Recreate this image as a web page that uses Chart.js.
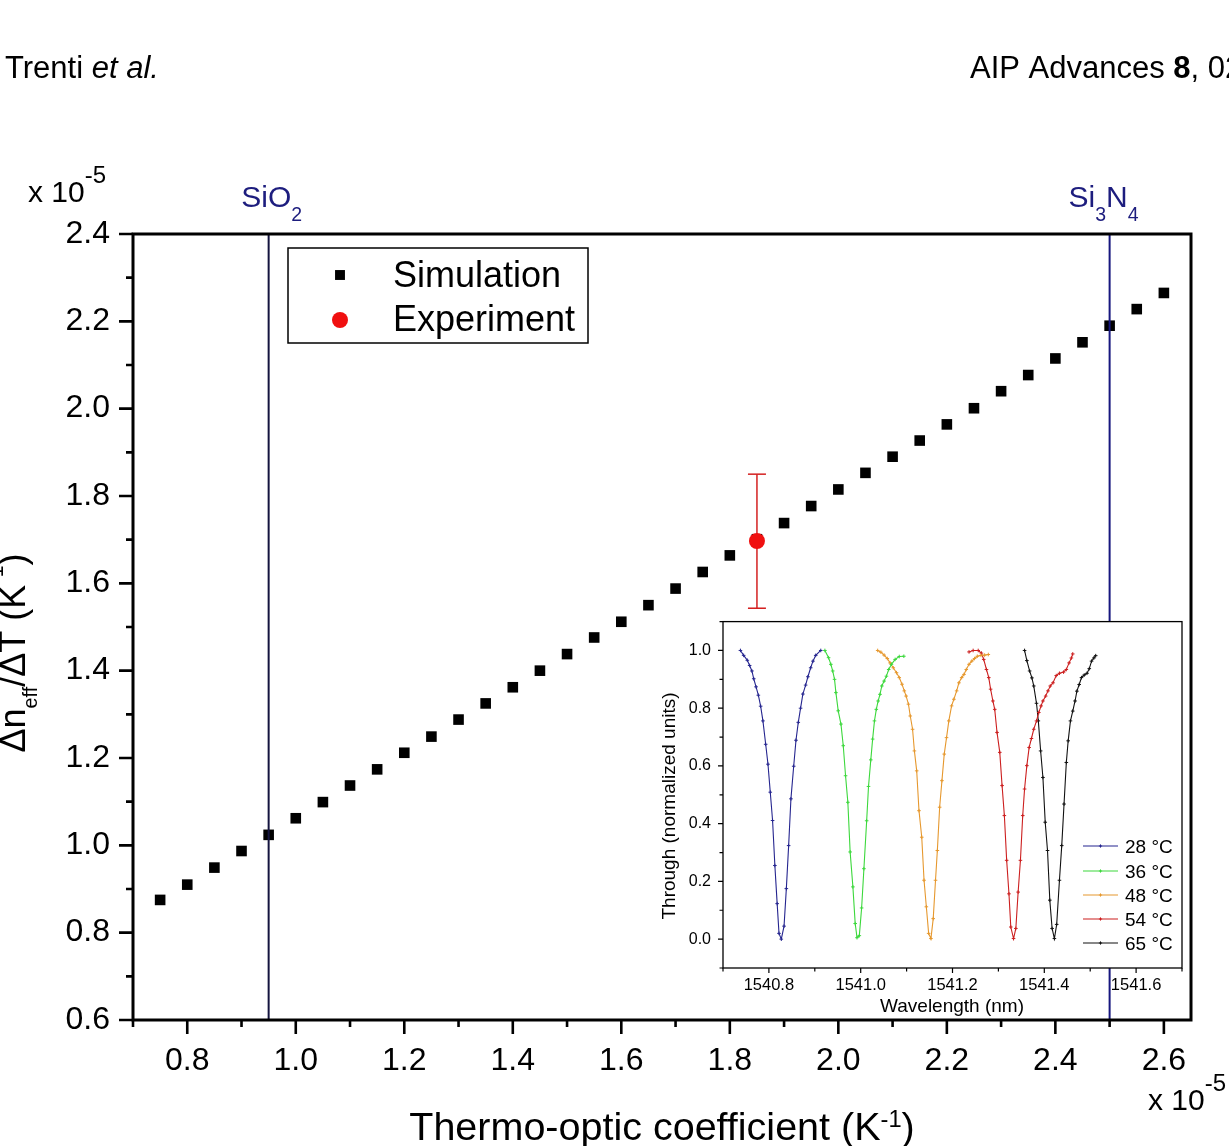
<!DOCTYPE html>
<html>
<head>
<meta charset="utf-8">
<script src="https://cdn.jsdelivr.net/npm/chart.js@4.4.1/dist/chart.umd.min.js"></script>
<style>
html,body{margin:0;padding:0;background:#fff;overflow:hidden;}
#wrap{position:relative;width:1229px;height:1146px;}
#main{position:absolute;left:0;top:0;width:1229px;height:1146px;}
#inset{position:absolute;left:640px;top:600px;width:560px;height:425px;}
</style>
</head>
<body>
<div id="wrap">
  <div id="main"><canvas id="c1"></canvas></div>
  <div id="inset"><canvas id="c2"></canvas></div>
</div>
<script>
// ---------------- DATA ----------------
const simCoeff = [0.75,0.80,0.85,0.90,0.95,1.00,1.05,1.10,1.15,1.20,1.25,1.30,1.35,1.40,1.45,1.50,1.55,1.60,1.65,1.70,1.75,1.80,1.85,1.90,1.95,2.00,2.05,2.10,2.15,2.20,2.25,2.30,2.35,2.40,2.45,2.50,2.55,2.60];
const simDndT  = [0.875,0.910,0.949,0.987,1.024,1.062,1.099,1.137,1.174,1.212,1.249,1.288,1.325,1.362,1.400,1.438,1.476,1.512,1.550,1.588,1.626,1.664,1.701,1.738,1.777,1.815,1.853,1.890,1.927,1.964,2.001,2.040,2.077,2.115,2.152,2.190,2.228,2.265];

const expCoeff   = [1.85];
const expDndT    = [1.697];
const expErrLow  = [1.543];
const expErrHigh = [1.850];

const materialNames = ['SiO2', 'Si3N4'];
const materialCoeff = [0.95, 2.50];

const xTickValues = [0.7,0.8,0.9,1.0,1.1,1.2,1.3,1.4,1.5,1.6,1.7,1.8,1.9,2.0,2.1,2.2,2.3,2.4,2.5,2.6];
const xTickLabels = ['','0.8','','1.0','','1.2','','1.4','','1.6','','1.8','','2.0','','2.2','','2.4','','2.6'];
const yTickValues = [0.6,0.7,0.8,0.9,1.0,1.1,1.2,1.3,1.4,1.5,1.6,1.7,1.8,1.9,2.0,2.1,2.2,2.3,2.4];
const yTickLabels = ['0.6','','0.8','','1.0','','1.2','','1.4','','1.6','','1.8','','2.0','','2.2','','2.4'];

// inset: resonance dips
const insetLabels = ['28 °C','36 °C','48 °C','54 °C','65 °C'];
const lam28 = [1540.738,1540.745,1540.753,1540.758,1540.763,1540.767,1540.772,1540.777,1540.782,1540.787,1540.793,1540.798,1540.803,1540.808,1540.813,1540.818,1540.822,1540.827,1540.833,1540.838,1540.843,1540.848,1540.854,1540.859,1540.864,1540.869,1540.874,1540.880,1540.885,1540.891,1540.896,1540.902,1540.913];
const thr28 = [1.000,0.983,0.966,0.948,0.929,0.902,0.874,0.845,0.807,0.756,0.675,0.606,0.509,0.411,0.255,0.123,0.020,0.000,0.045,0.175,0.324,0.486,0.599,0.689,0.751,0.800,0.849,0.880,0.909,0.940,0.963,0.983,1.000];
const lam36 = [1540.922,1540.930,1540.935,1540.939,1540.943,1540.946,1540.951,1540.957,1540.962,1540.967,1540.972,1540.977,1540.983,1540.988,1540.992,1540.997,1541.002,1541.007,1541.013,1541.017,1541.022,1541.026,1541.030,1541.034,1541.038,1541.042,1541.046,1541.051,1541.056,1541.061,1541.067,1541.075,1541.084,1541.094];
const thr36 = [1.000,0.975,0.952,0.929,0.900,0.854,0.791,0.745,0.670,0.566,0.474,0.302,0.181,0.054,0.005,0.012,0.108,0.244,0.410,0.529,0.621,0.693,0.756,0.796,0.825,0.848,0.877,0.894,0.911,0.934,0.952,0.969,0.979,0.980];
const lam48 = [1541.037,1541.044,1541.051,1541.058,1541.064,1541.071,1541.078,1541.084,1541.090,1541.095,1541.099,1541.104,1541.108,1541.113,1541.117,1541.122,1541.127,1541.133,1541.138,1541.143,1541.148,1541.153,1541.158,1541.163,1541.167,1541.172,1541.177,1541.182,1541.187,1541.192,1541.198,1541.203,1541.209,1541.214,1541.220,1541.225,1541.230,1541.236,1541.242,1541.248,1541.254,1541.262,1541.270,1541.278];
const thr48 = [1.000,0.994,0.984,0.972,0.957,0.940,0.923,0.906,0.883,0.860,0.842,0.814,0.773,0.727,0.652,0.583,0.445,0.353,0.204,0.112,0.020,0.002,0.071,0.204,0.307,0.457,0.549,0.641,0.698,0.756,0.808,0.831,0.860,0.888,0.906,0.917,0.934,0.952,0.963,0.972,0.980,0.983,0.984,0.986];
const lam54 = [1541.236,1541.245,1541.256,1541.263,1541.268,1541.274,1541.279,1541.283,1541.288,1541.292,1541.297,1541.303,1541.308,1541.313,1541.318,1541.323,1541.327,1541.333,1541.338,1541.343,1541.348,1541.353,1541.357,1541.362,1541.367,1541.372,1541.377,1541.383,1541.388,1541.393,1541.397,1541.403,1541.408,1541.413,1541.419,1541.426,1541.433,1541.442,1541.448,1541.454,1541.459,1541.462];
const thr54 = [0.995,1.000,1.000,0.991,0.969,0.934,0.906,0.866,0.825,0.796,0.716,0.647,0.532,0.428,0.273,0.157,0.042,0.002,0.037,0.163,0.273,0.428,0.520,0.601,0.664,0.695,0.727,0.756,0.785,0.808,0.825,0.842,0.860,0.877,0.888,0.913,0.921,0.925,0.934,0.957,0.974,0.988];
const lam65 = [1541.357,1541.362,1541.368,1541.373,1541.377,1541.383,1541.387,1541.392,1541.397,1541.402,1541.407,1541.412,1541.417,1541.422,1541.427,1541.433,1541.438,1541.443,1541.448,1541.452,1541.457,1541.462,1541.467,1541.471,1541.476,1541.481,1541.487,1541.493,1541.498,1541.503,1541.508,1541.512];
const thr65 = [1.000,0.965,0.929,0.905,0.877,0.817,0.756,0.652,0.560,0.405,0.307,0.135,0.037,0.002,0.051,0.204,0.324,0.468,0.612,0.687,0.756,0.790,0.825,0.859,0.882,0.906,0.915,0.921,0.937,0.963,0.974,0.982];

const insetXTicks  = [1540.7,1540.8,1540.9,1541.0,1541.1,1541.2,1541.3,1541.4,1541.5,1541.6,1541.7];
const insetXLabels = ['','1540.8','','1541.0','','1541.2','','1541.4','','1541.6',''];
const insetYTicks  = [-0.1,0.0,0.1,0.2,0.3,0.4,0.5,0.6,0.7,0.8,0.9,1.0,1.1];
const insetYLabels = ['','0.0','','0.2','','0.4','','0.6','','0.8','','1.0',''];

// ---------------- HELPERS ----------------
const FONT = "'Liberation Sans', Arial, Helvetica, sans-serif";
const NAVY = '#1d1d7e';

// segs: [text, kind, sizeFactor, offsetFactor]
function richText(ctx, segs, x, y, size, color, align, angle) {
  ctx.save();
  ctx.translate(x, y);
  if (angle) ctx.rotate(angle);
  ctx.fillStyle = color;
  ctx.textBaseline = 'alphabetic';
  ctx.textAlign = 'left';
  const items = segs.map(s => {
    const txt = s[0], kind = s[1] || 'n';
    let fs = size, dy = 0, pre = '';
    if (kind === 'sub') { fs = size * (s[2] || 0.62); dy = size * (s[3] || 0.3); }
    if (kind === 'sup') { fs = size * (s[2] || 0.62); dy = -size * (s[3] || 0.36); }
    if (kind === 'i') pre = 'italic ';
    if (kind === 'b') pre = 'bold ';
    const font = pre + fs + 'px ' + FONT;
    ctx.font = font;
    return { txt, font, dy, w: ctx.measureText(txt).width };
  });
  const total = items.reduce((a, b) => a + b.w, 0);
  let cx = align === 'center' ? -total / 2 : (align === 'right' ? -total : 0);
  for (const it of items) { ctx.font = it.font; ctx.fillText(it.txt, cx, it.dy); cx += it.w; }
  ctx.restore();
}

function drawMarker(ctx, style, radius, x, y, fill, stroke, bw) {
  ctx.save();
  ctx.fillStyle = fill; ctx.strokeStyle = stroke || fill; ctx.lineWidth = bw || 0;
  if (Chart.helpers && Chart.helpers.drawPoint) {
    Chart.helpers.drawPoint(ctx, { pointStyle: style, radius: radius, rotation: 0, borderWidth: bw || 0 }, x, y);
  }
  ctx.restore();
}

// ---------------- MAIN CHART ----------------
const Y_MIN = 0.6, Y_MAX = 2.4, X_MIN = 0.7, X_MAX = 2.65;

const mainDecor = {
  id: 'mainDecor',
  afterDraw(chart) {
    const { ctx, chartArea: a, scales: { x, y } } = chart;
    ctx.save();
    // frame
    ctx.strokeStyle = '#000'; ctx.lineWidth = 3;
    ctx.strokeRect(a.left, a.top, a.right - a.left, a.bottom - a.top);
    // ticks
    ctx.lineWidth = 2.6; ctx.beginPath();
    xTickValues.forEach((v, i) => {
      const px = x.getPixelForValue(v); const len = xTickLabels[i] ? 14 : 7;
      ctx.moveTo(px, a.bottom); ctx.lineTo(px, a.bottom + len);
    });
    yTickValues.forEach((v, i) => {
      const py = y.getPixelForValue(v); const len = yTickLabels[i] ? 14 : 7;
      ctx.moveTo(a.left, py); ctx.lineTo(a.left - len, py);
    });
    ctx.stroke();

    // legend
    ctx.lineWidth = 1.5; ctx.strokeStyle = '#000';
    ctx.strokeRect(288, 248, 300, 95);
    const sim = chart.data.datasets.find(d => d.label === 'Simulation');
    const exp = chart.data.datasets.find(d => d.label === 'Experiment');
    drawMarker(ctx, 'rect', 7, 340, 275, sim.backgroundColor);
    drawMarker(ctx, 'circle', 8, 340, 320, exp.backgroundColor);
    richText(ctx, [[sim.label]], 393, 287, 36, '#000', 'left');
    richText(ctx, [[exp.label]], 393, 331, 36, '#000', 'left');

    // material labels
    const pSi = x.getPixelForValue(materialCoeff[0]);
    const pSN = x.getPixelForValue(materialCoeff[1]);
    richText(ctx, [['SiO'], ['2', 'sub', 0.65, 0.45]], pSi + 3, 207, 30, NAVY, 'center');
    richText(ctx, [['Si'], ['3', 'sub', 0.65, 0.45], ['N'], ['4', 'sub', 0.65, 0.45]], pSN - 6, 207, 30, NAVY, 'center');

    // multipliers
    richText(ctx, [['x 10'], ['-5', 'sup', 0.8, 0.64]], 28, 202, 30, '#000', 'left');
    richText(ctx, [['x 10'], ['-5', 'sup', 0.8, 0.64]], 1148, 1110, 30, '#000', 'left');

    // axis titles
    richText(ctx, [['Thermo-optic coefficient (K'], ['-1', 'sup', 0.6, 0.33], [')']], 662, 1140, 39.5, '#000', 'center');
    richText(ctx, [['Δn'], ['eff', 'sub', 0.55, 0.34], ['/ΔT (K'], ['-1', 'sup', 0.6, 0.62], [')']], 25, 653, 36, '#000', 'center', -Math.PI / 2);

    // header
    richText(ctx, [['Trenti '], ['et al.', 'i']], 5, 78, 31, '#000', 'left');
    richText(ctx, [['AIP Advances '], ['8', 'b'], [', 025311 (2018)']], 970, 78, 31, '#000', 'left');
    ctx.restore();
  }
};

const mainData = {
  datasets: [
    {
      label: materialNames[0], type: 'scatter', showLine: true, order: 0,
      data: [{ x: materialCoeff[0], y: Y_MIN }, { x: materialCoeff[0], y: Y_MAX }],
      borderColor: '#14143f', borderWidth: 2, pointRadius: 0
    },
    {
      label: materialNames[1], type: 'scatter', showLine: true, order: 0,
      data: [{ x: materialCoeff[1], y: Y_MIN }, { x: materialCoeff[1], y: Y_MAX }],
      borderColor: '#17177f', borderWidth: 2, pointRadius: 0
    },
    {
      label: 'Experiment', order: 1,
      data: expCoeff.map((v, i) => ({ x: v, y: expDndT[i] })),
      pointStyle: 'circle', pointRadius: 8, backgroundColor: '#f01010', borderWidth: 0
    },
    {
      label: 'Experiment error', type: 'scatter', showLine: true, order: 2,
      data: [{ x: expCoeff[0], y: expErrLow[0] }, { x: expCoeff[0], y: expErrHigh[0] }],
      borderColor: '#d42020', borderWidth: 1.5,
      pointStyle: 'line', pointRadius: 9, pointBorderWidth: 1.5, pointBorderColor: '#d42020'
    },
    {
      label: 'Simulation', order: 3,
      data: simCoeff.map((v, i) => ({ x: v, y: simDndT[i] })),
      pointStyle: 'rect', pointRadius: 7.5, backgroundColor: '#000', borderWidth: 0
    }
  ]
};

new Chart(document.getElementById('c1'), {
  type: 'scatter',
  data: mainData,
  options: {
    responsive: true, maintainAspectRatio: false, animation: false,
    layout: { padding: { left: 0, top: 234, right: 38, bottom: 0 } },
    plugins: { legend: { display: false }, tooltip: { enabled: false }, title: { display: false } },
    scales: {
      x: {
        type: 'linear', min: X_MIN, max: X_MAX,
        afterBuildTicks: s => { s.ticks = xTickValues.map(v => ({ value: v })); },
        afterFit: s => { s.height = 126; },
        grid: { display: false, drawTicks: false },
        border: { display: false },
        ticks: { autoSkip: false, maxRotation: 0, minRotation: 0, padding: 22, color: '#000',
          font: { size: 32, family: FONT }, callback: (v, i) => xTickLabels[i] }
      },
      y: {
        type: 'linear', min: Y_MIN, max: Y_MAX,
        afterBuildTicks: s => { s.ticks = yTickValues.map(v => ({ value: v })); },
        afterFit: s => { s.width = 133; },
        grid: { display: false, drawTicks: false },
        border: { display: false },
        ticks: { autoSkip: false, padding: 23, color: '#000',
          font: { size: 32, family: FONT }, callback: (v, i) => yTickLabels[i] }
      }
    }
  },
  plugins: [mainDecor]
});

// ---------------- INSET CHART ----------------
const insetColors = ['#25258f', '#3cd83c', '#e6982e', '#cc1f1f', '#111111'];
const insetLam = [lam28, lam36, lam48, lam54, lam65];
const insetThr = [thr28, thr36, thr48, thr54, thr65];

const insetDecor = {
  id: 'insetDecor',
  beforeDraw(chart) {
    const { ctx, chartArea: a } = chart;
    ctx.save(); ctx.fillStyle = '#fff';
    ctx.fillRect(a.left, a.top, a.right - a.left, a.bottom - a.top);
    ctx.restore();
  },
  afterDraw(chart) {
    const { ctx, chartArea: a, scales: { x, y } } = chart;
    ctx.save();
    ctx.strokeStyle = '#000'; ctx.lineWidth = 1.3;
    ctx.strokeRect(a.left, a.top, a.right - a.left, a.bottom - a.top);
    ctx.lineWidth = 1.2; ctx.beginPath();
    insetXTicks.forEach((v, i) => {
      const px = x.getPixelForValue(v); const len = insetXLabels[i] ? 5 : 3.5;
      ctx.moveTo(px, a.bottom); ctx.lineTo(px, a.bottom + len);
    });
    insetYTicks.forEach((v, i) => {
      const py = y.getPixelForValue(v); const len = insetYLabels[i] ? 5 : 3.5;
      ctx.moveTo(a.left, py); ctx.lineTo(a.left - len, py);
    });
    ctx.stroke();
    // titles
    richText(ctx, [['Wavelength (nm)']], 312, 412, 19, '#000', 'center');
    richText(ctx, [['Through (normalized units)']], 35, 206, 19, '#000', 'center', -Math.PI / 2);
    // legend
    const rows = [246, 271, 295, 319, 343];
    chart.data.datasets.forEach((d, i) => {
      const yy = rows[i];
      ctx.strokeStyle = d.borderColor; ctx.lineWidth = 1.2;
      ctx.beginPath(); ctx.moveTo(443, yy); ctx.lineTo(478, yy); ctx.stroke();
      drawMarker(ctx, 'cross', 1.6, 460.5, yy, d.borderColor, d.borderColor, 1);
      richText(ctx, [[d.label]], 485, yy + 7, 19, '#000', 'left');
    });
    ctx.restore();
  }
};

new Chart(document.getElementById('c2'), {
  type: 'scatter',
  data: {
    datasets: insetLabels.map((lab, k) => ({
      label: lab, showLine: true,
      data: insetLam[k].map((v, i) => ({ x: v, y: insetThr[k][i] })),
      borderColor: insetColors[k], backgroundColor: insetColors[k], borderWidth: 1.1,
      pointStyle: 'cross', pointRadius: 1.8, pointBorderWidth: 1, pointBorderColor: insetColors[k],
      tension: 0
    }))
  },
  options: {
    responsive: true, maintainAspectRatio: false, animation: false,
    layout: { padding: { left: 0, top: 20, right: 18, bottom: 0 } },
    plugins: { legend: { display: false }, tooltip: { enabled: false } },
    scales: {
      x: {
        type: 'linear', min: 1540.7, max: 1541.7,
        afterBuildTicks: s => { s.ticks = insetXTicks.map(v => ({ value: v })); },
        afterFit: s => { s.height = 57; },
        grid: { display: false, drawTicks: false }, border: { display: false },
        ticks: { autoSkip: false, maxRotation: 0, padding: 8, color: '#000',
          font: { size: 16.5, family: FONT }, callback: (v, i) => insetXLabels[i] }
      },
      y: {
        type: 'linear', min: -0.1, max: 1.1,
        afterBuildTicks: s => { s.ticks = insetYTicks.map(v => ({ value: v })); },
        afterFit: s => { s.width = 83; },
        grid: { display: false, drawTicks: false }, border: { display: false },
        ticks: { autoSkip: false, padding: 12, color: '#000',
          font: { size: 16, family: FONT }, callback: (v, i) => insetYLabels[i] }
      }
    }
  },
  plugins: [insetDecor]
});
</script>
</body>
</html>
